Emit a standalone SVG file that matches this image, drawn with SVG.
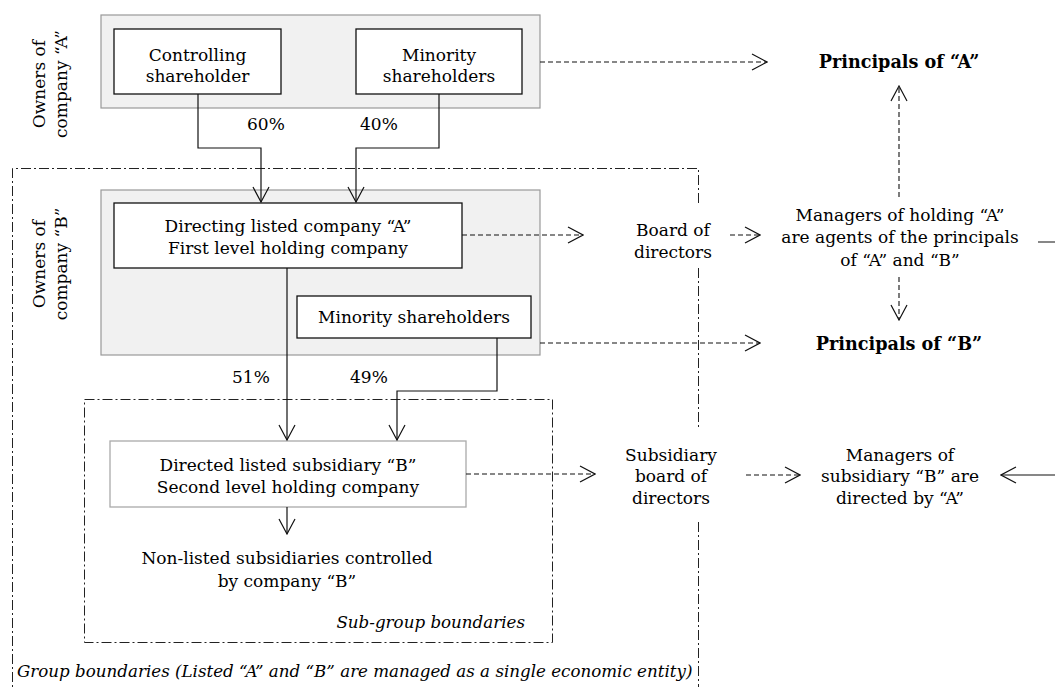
<svg xmlns="http://www.w3.org/2000/svg" width="1055" height="687" viewBox="0 0 1055 687">
  <style>
    text { font-family: "DejaVu Serif", "Liberation Serif", serif; font-size: 17px; fill: #000; }
    .mid { text-anchor: middle; }
    .bold { font-weight: bold; font-size: 17.6px; }
    .ital { font-style: italic; font-size: 16.7px; }
    .pane { fill: #f1f1f1; stroke: #999; stroke-width: 1.2; }
    .box { fill: #fff; stroke: #111; stroke-width: 1.3; }
    .softbox { fill: #fff; stroke: #aaa; stroke-width: 1.3; }
    .bound { fill: none; stroke: #222; stroke-width: 1; stroke-dasharray: 10 3 2 3; }
    .solid { fill: none; stroke: #111; stroke-width: 1.2; marker-end: url(#head); }
    .dash { fill: none; stroke: #111; stroke-width: 1.1; stroke-dasharray: 5 3; marker-end: url(#head); }
  </style>
  <defs>
    <marker id="head" viewBox="0 0 17 18" refX="16" refY="9" markerWidth="17" markerHeight="18" markerUnits="userSpaceOnUse" orient="auto">
      <path d="M1,1 L16,9 L1,17" fill="none" stroke="#111" stroke-width="1.2" stroke-dasharray="none"/>
    </marker>
  </defs>

  <!-- boundaries -->
  <g id="group-boundary">
    <path class="bound" d="M698.5,203 V168.5 H12.5 V700"/>
    <path class="bound" d="M698.5,268 V430"/>
    <path class="bound" d="M698.5,522 V700"/>
    <text class="ital" x="17" y="677">Group boundaries (Listed “A” and “B” are managed as a single economic entity)</text>
  </g>
  <g id="subgroup-boundary">
    <rect class="bound" x="84.5" y="399.5" width="468" height="243"/>
    <text class="ital" x="525" y="628" text-anchor="end">Sub-group boundaries</text>
  </g>

  <!-- owners of company A -->
  <g id="owners-a">
    <rect class="pane" x="101" y="15" width="439" height="93"/>
    <text class="mid" transform="translate(45,84) rotate(-90)">Owners of</text>
    <text class="mid" transform="translate(67,84) rotate(-90)">company “A”</text>
  </g>
  <g id="controlling-shareholder">
    <rect class="box" x="114" y="29" width="167" height="65"/>
    <text class="mid" x="197.5" y="61">Controlling</text>
    <text class="mid" x="197.5" y="82">shareholder</text>
  </g>
  <g id="minority-a">
    <rect class="box" x="356" y="29" width="166" height="65"/>
    <text class="mid" x="439" y="61">Minority</text>
    <text class="mid" x="439" y="82">shareholders</text>
  </g>

  <!-- owners of company B -->
  <g id="owners-b">
    <rect class="pane" x="101" y="190" width="439" height="165"/>
    <text class="mid" transform="translate(45,264) rotate(-90)">Owners of</text>
    <text class="mid" transform="translate(67,264) rotate(-90)">company “B”</text>
  </g>
  <g id="company-a">
    <rect class="box" x="114" y="203" width="348" height="65"/>
    <text class="mid" x="288" y="232">Directing listed company “A”</text>
    <text class="mid" x="288" y="254">First level holding company</text>
  </g>
  <g id="minority-b">
    <rect class="box" x="297" y="296" width="234" height="42"/>
    <text class="mid" x="414" y="323">Minority shareholders</text>
  </g>

  <!-- subsidiary B -->
  <g id="subsidiary-b">
    <rect class="softbox" x="110" y="441" width="356" height="66"/>
    <text class="mid" x="288" y="471">Directed listed subsidiary “B”</text>
    <text class="mid" x="288" y="493">Second level holding company</text>
  </g>
  <g id="non-listed">
    <text class="mid" x="287" y="564">Non-listed subsidiaries controlled</text>
    <text class="mid" x="287" y="587">by company “B”</text>
  </g>

  <!-- right-hand side -->
  <g id="principals-a">
    <text class="mid bold" x="899" y="68">Principals of “A”</text>
  </g>
  <g id="principals-b">
    <text class="mid bold" x="899" y="350">Principals of “B”</text>
  </g>
  <g id="board-a">
    <text class="mid" x="673" y="236">Board of</text>
    <text class="mid" x="673" y="258">directors</text>
  </g>
  <g id="managers-a">
    <text class="mid" x="900" y="221">Managers of holding “A”</text>
    <text class="mid" x="900" y="243">are agents of the principals</text>
    <text class="mid" x="900" y="266">of “A” and “B”</text>
  </g>
  <g id="board-b">
    <text class="mid" x="671" y="461">Subsidiary</text>
    <text class="mid" x="671" y="482">board of</text>
    <text class="mid" x="671" y="504">directors</text>
  </g>
  <g id="managers-b">
    <text class="mid" x="900" y="461">Managers of</text>
    <text class="mid" x="900" y="482">subsidiary “B” are</text>
    <text class="mid" x="900" y="504">directed by “A”</text>
  </g>

  <!-- connectors -->
  <g id="connectors">
    <path class="solid" d="M198,94 V148 H261 V202"/>
    <path class="solid" d="M439,94 V148 H356 V202"/>
    <path class="solid" d="M287,268 V440"/>
    <path class="solid" d="M497,338 V391 H397 V440"/>
    <path class="solid" d="M287,507 V534"/>
    <path class="solid" d="M1038,242 H1075 V475 H1001"/>
    <path class="dash" d="M540,62 H767"/>
    <path class="dash" d="M540,343 H760"/>
    <path class="dash" d="M462,235 H583"/>
    <path class="dash" d="M730,235 H760"/>
    <path class="dash" d="M899,197 V86"/>
    <path class="dash" d="M899,277 V320"/>
    <path class="dash" d="M466,474 H595"/>
    <path class="dash" d="M746,475 H800"/>
  </g>
  <g id="labels">
    <text x="247" y="130">60%</text>
    <text x="360" y="130">40%</text>
    <text x="232" y="383">51%</text>
    <text x="350" y="383">49%</text>
  </g>
</svg>
